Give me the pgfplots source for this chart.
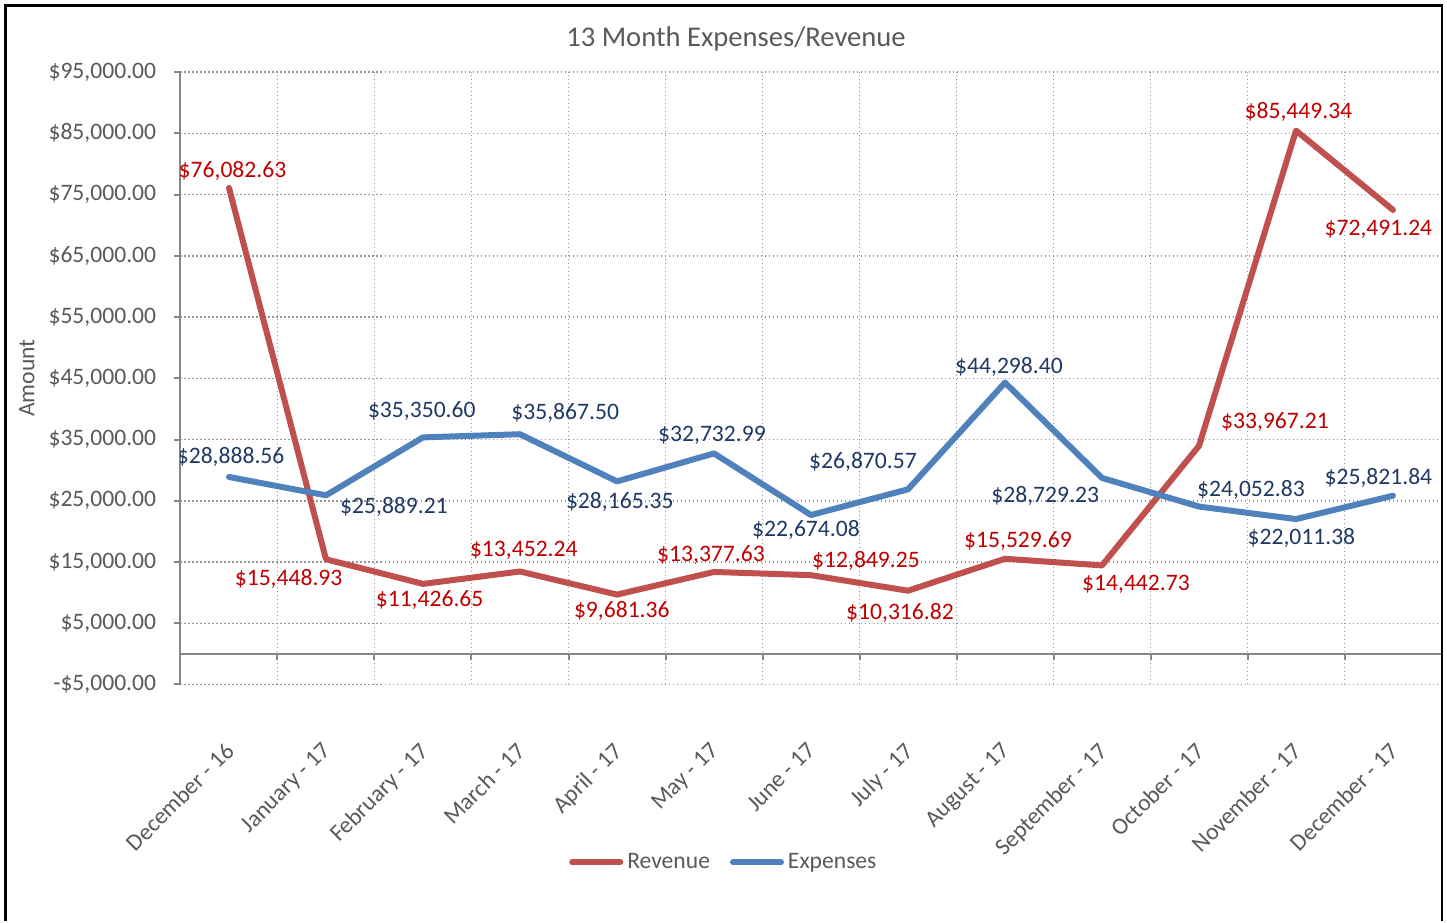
\documentclass[border=0pt]{standalone}
\usepackage{fontspec}
\setmainfont{Carlito}
\usepackage{pgfplots}
\pgfplotsset{compat=1.18}

\definecolor{revline}{RGB}{192,80,77}
\definecolor{expline}{RGB}{79,129,189}
\definecolor{revtext}{RGB}{192,0,0}
\definecolor{exptext}{RGB}{31,56,100}
\definecolor{textgray}{RGB}{89,89,89}
\definecolor{axisgray}{RGB}{134,134,134}
\definecolor{gridgray}{RGB}{150,150,150}
\newcommand\lbl{\fontsize{11.8pt}{14pt}\selectfont}

\begin{document}
\begin{tikzpicture}[
  rl/.style={font=\lbl, text=revtext, inner sep=0pt},
  el/.style={font=\lbl, text=exptext, inner sep=0pt},
  px/.style={x=0.5pt, y=-0.5pt, shift={(-90.25pt,342.25pt)}},
]
\begin{scope}[px]
\useasboundingbox (0,0) rectangle (1447,921);
\end{scope}
\begin{axis}[
    at={(0,0)}, anchor=south west,
    scale only axis, width=630.5pt, height=306.2pt,
    xmin=-0.5, xmax=12.5, ymin=-5000, ymax=95000,
    axis y line*=left, axis x line*=bottom,
    axis line style={-},
    x axis line style={draw=none},
    y axis line style={axisgray, line width=1pt},
    xtick={0,...,12},
    xticklabels={December - 16, January - 17, February - 17, March - 17,
      April - 17, May - 17, June - 17, July - 17, August - 17,
      September - 17, October - 17, November - 17, December - 17},
    minor xtick={0.5,1.5,...,12.5},
    xtick style={draw=none},
    ytick={-5000,5000,...,95000},
    scaled y ticks=false,
    yticklabels={{-\$5,000.00},{\$5,000.00},{\$15,000.00},{\$25,000.00},
      {\$35,000.00},{\$45,000.00},{\$55,000.00},{\$65,000.00},
      {\$75,000.00},{\$85,000.00},{\$95,000.00}},
    tick align=outside, major tick length=3pt,
    ytick style={axisgray, line width=1pt},
    ytick pos=left,
    ymajorgrids=true, xmajorgrids=false, xminorgrids=true,
    grid style={gridgray, line width=0.75pt, dash pattern=on 0.75pt off 1.25pt},
    minor grid style={gridgray, line width=0.75pt, dash pattern=on 0.75pt off 1.25pt},
    yticklabel style={font=\lbl, text=textgray, anchor=east, inner sep=0pt, xshift=-9pt},
    xticklabel style={font=\lbl, text=textgray, inner sep=0pt,
      xshift=-2.5pt, yshift=-25pt, rotate=45, anchor=north east},
    legend columns=2,
    legend style={at={(0.4317,-0.2904)}, anchor=center, draw=none, fill=none,
      font=\lbl, text=textgray,
      /tikz/every even column/.append style={column sep=8pt}},
    legend image code/.code={\draw[#1, line cap=round] (0pt,0pt) -- (24pt,0pt);},
]
\draw[axisgray, line width=1pt] (axis cs:-0.5,0) -- (axis cs:12.5,0);
\pgfplotsinvokeforeach{0.5,1.5,...,12.5}{\draw[axisgray, line width=1pt] (axis cs:#1,0) -- ++(0pt,-3pt);}

\addplot[revline, line width=3pt, line join=round, line cap=round] coordinates {
  (0,76082.63) (1,15448.93) (2,11426.65) (3,13452.24) (4,9681.36)
  (5,13377.63) (6,12849.25) (7,10316.82) (8,15529.69) (9,14442.73)
  (10,33967.21) (11,85449.34) (12,72491.24)};
\addlegendentry{Revenue}
\addplot[expline, line width=3pt, line join=round, line cap=round] coordinates {
  (0,28888.56) (1,25889.21) (2,35350.60) (3,35867.50) (4,28165.35)
  (5,32732.99) (6,22674.08) (7,26870.57) (8,44298.40) (9,28729.23)
  (10,24052.83) (11,22011.38) (12,25821.84)};
\addlegendentry{Expenses}

% revenue labels
\node[rl, xshift=1.75pt, yshift=8.5pt]  at (axis cs:0,76082.63) {\$76,082.63};
\node[rl, xshift=-18.7pt, yshift=-9.7pt] at (axis cs:1,15448.93) {\$15,448.93};
\node[rl, xshift=3.3pt, yshift=-8.3pt]  at (axis cs:2,11426.65) {\$11,426.65};
\node[rl, xshift=1.9pt, yshift=10.4pt]  at (axis cs:3,13452.24) {\$13,452.24};
\node[rl, xshift=2.4pt, yshift=-8pt]    at (axis cs:4,9681.36) {\$9,681.36};
\node[rl, xshift=-1.5pt, yshift=8.7pt]  at (axis cs:5,13377.63) {\$13,377.63};
\node[rl, xshift=27.5pt, yshift=7.3pt]  at (axis cs:6,12849.25) {\$12,849.25};
\node[rl, xshift=-4pt, yshift=-11pt]    at (axis cs:7,10316.82) {\$10,316.82};
\node[rl, xshift=6.5pt, yshift=9pt]     at (axis cs:8,15529.69) {\$15,529.69};
\node[rl, xshift=17pt, yshift=-9.6pt]   at (axis cs:9,14442.73) {\$14,442.73};
\node[rl, xshift=38pt, yshift=12pt]     at (axis cs:10,33967.21) {\$33,967.21};
\node[rl, xshift=1.2pt, yshift=9.3pt]   at (axis cs:11,85449.34) {\$85,449.34};
\node[rl, xshift=-7.3pt, yshift=-9.5pt] at (axis cs:12,72491.24) {\$72,491.24};
% expense labels
\node[el, xshift=0.8pt, yshift=10.2pt]  at (axis cs:0,28888.56) {\$28,888.56};
\node[el, xshift=34pt, yshift=-6pt]     at (axis cs:1,25889.21) {\$25,889.21};
\node[el, xshift=-0.6pt, yshift=13pt]   at (axis cs:2,35350.60) {\$35,350.60};
\node[el, xshift=22.6pt, yshift=10.6pt] at (axis cs:3,35867.50) {\$35,867.50};
\node[el, xshift=1.4pt, yshift=-10.2pt] at (axis cs:4,28165.35) {\$28,165.35};
\node[el, xshift=-1pt, yshift=8.9pt]    at (axis cs:5,32732.99) {\$32,732.99};
\node[el, xshift=-2.5pt, yshift=-7.3pt] at (axis cs:6,22674.08) {\$22,674.08};
\node[el, xshift=-22.5pt, yshift=13.8pt] at (axis cs:7,26870.57) {\$26,870.57};
\node[el, xshift=2pt, yshift=8pt]       at (axis cs:8,44298.40) {\$44,298.40};
\node[el, xshift=-28.4pt, yshift=-8.9pt] at (axis cs:9,28729.23) {\$28,729.23};
\node[el, xshift=26pt, yshift=8.5pt]    at (axis cs:10,24052.83) {\$24,052.83};
\node[el, xshift=2.7pt, yshift=-9.3pt]  at (axis cs:11,22011.38) {\$22,011.38};
\node[el, xshift=-7.3pt, yshift=9pt]    at (axis cs:12,25821.84) {\$25,821.84};
\end{axis}
\begin{scope}[px]
\draw[black, line width=1.15pt] (5.5,921) -- (5.5,5.5) -- (1442,5.5) -- (1442,921);
\node[font=\fontsize{14.3pt}{17pt}\selectfont, text=textgray] at (736,39) {13 Month Expenses/Revenue};
\node[font=\lbl, text=textgray, rotate=90] at (27,378) {Amount};
\end{scope}
\end{tikzpicture}
\end{document}
